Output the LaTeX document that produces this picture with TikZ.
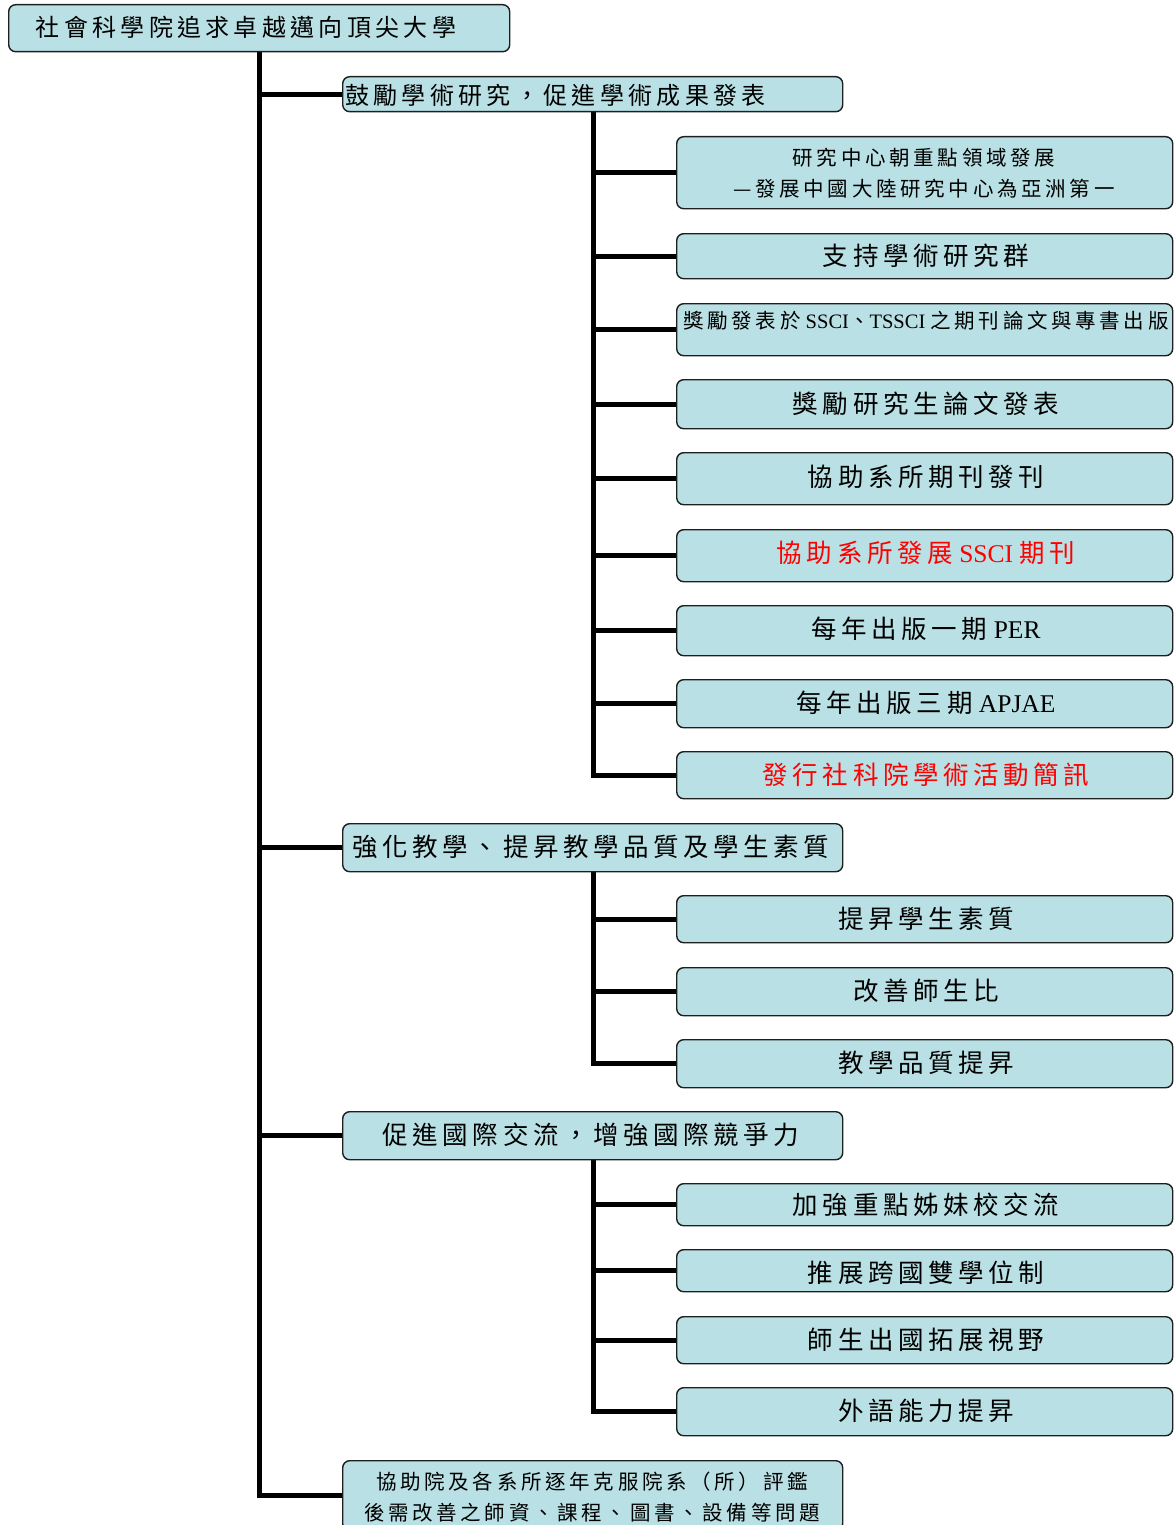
\documentclass[tikz,border=0pt]{standalone}
\usepackage{fontspec}
\setmainfont{Liberation Serif}
\newfontfamily\cjk[LetterSpace=18]{Noto Sans CJK TC}
\usetikzlibrary{backgrounds}
\definecolor{boxfill}{RGB}{185,224,228}
\definecolor{boxline}{RGB}{30,30,30}
\newcommand\fsz[2]{\fontsize{#1}{#2}\selectfont}
\begin{document}
\begin{tikzpicture}[x=1pt,y=-1pt,
  box/.style={draw=boxline, line width=1.4pt, fill=boxfill, rounded corners=7pt,
    inner sep=0pt, anchor=north west},
  cbox/.style={box, minimum width=496pt},
  lbox/.style={box, minimum width=500pt},
  txt/.style={inner sep=0pt, anchor=center, text=black},
  big/.style={font=\fsz{25.5}{30}\cjk},
  mid/.style={font=\fsz{24}{30}\cjk},
  small/.style={font=\fsz{20.5}{31}\cjk, align=center},
  conn/.style={line width=5pt, draw=black}]
\useasboundingbox (0,0) rectangle (1173,1525);
\coordinate (t) at (259,0);
\coordinate (s) at (593,0);

% root
\node[box, minimum width=501pt, minimum height=47pt] (root) at (8,4) {};
\node[txt, mid] (roott) at (246,27) {社會科學院追求卓越邁向頂尖大學};

% level 1
\node[lbox, minimum height=35pt] (a) at (342,76) {};
\node[txt, mid, anchor=west] (at) at (345,95) {鼓勵學術研究，促進學術成果發表};
\node[lbox, minimum height=48pt] (b) at (342,823) {};
\node[txt, big] (bt) at (591,847) {強化教學、提昇教學品質及學生素質};
\node[lbox, minimum height=48pt] (c) at (342,1111) {};
\node[txt, big] (ct) at (591,1135) {促進國際交流，增強國際競爭力};
\node[lbox, minimum height=70pt] (d) at (342,1460) {};
\node[txt, small] (dt) at (592,1497) {協助院及各系所逐年克服院系（所）評鑑\\後需改善之師資、課程、圖書、設備等問題};

% children of a
\node[cbox, minimum height=72pt] (a1) at (676,136) {};
\node[txt, small] (a1t) at (924,173.5) {研究中心朝重點領域發展\\—發展中國大陸研究中心為亞洲第一};
\node[cbox, minimum height=45pt] (a2) at (676,233) {};
\node[txt, big] (a2t) at (926,256) {支持學術研究群};
\node[cbox, minimum height=52pt] (a3) at (676,303) {};
\node[txt, font=\fsz{20.5}{24}] (a3t) at (926,321) {{\cjk 獎勵發表於} SSCI{\cjk 、}TSSCI {\cjk 之期刊論文與專書出版}};
\node[cbox, minimum height=49pt] (a4) at (676,379) {};
\node[txt, big] (a4t) at (926,404) {獎勵研究生論文發表};
\node[cbox, minimum height=52pt] (a5) at (676,452) {};
\node[txt, big] (a5t) at (926,477) {協助系所期刊發刊};
\node[cbox, minimum height=52pt] (a6) at (676,529) {};
\node[txt, font=\fsz{25.5}{30}, text=red] (a6t) at (926,553) {{\cjk 協助系所發展} SSCI {\cjk 期刊}};
\node[cbox, minimum height=50pt] (a7) at (676,605) {};
\node[txt, font=\fsz{25.5}{30}] (a7t) at (926,629) {{\cjk 每年出版一期} PER};
\node[cbox, minimum height=48pt] (a8) at (676,679) {};
\node[txt, font=\fsz{25.5}{30}] (a8t) at (926,703) {{\cjk 每年出版三期} APJAE};
\node[cbox, minimum height=47pt] (a9) at (676,751) {};
\node[txt, big, text=red] (a9t) at (926,775) {發行社科院學術活動簡訊};

% children of b
\node[cbox, minimum height=47pt] (b1) at (676,895) {};
\node[txt, big] (b1t) at (926,919) {提昇學生素質};
\node[cbox, minimum height=48pt] (b2) at (676,967) {};
\node[txt, big] (b2t) at (926,991) {改善師生比};
\node[cbox, minimum height=48pt] (b3) at (676,1039) {};
\node[txt, big] (b3t) at (926,1063) {教學品質提昇};

% children of c
\node[cbox, minimum height=42pt] (c1) at (676,1183) {};
\node[txt, big] (c1t) at (926,1205) {加強重點姊妹校交流};
\node[cbox, minimum height=42pt] (c2) at (676,1249) {};
\node[txt, big] (c2t) at (926,1273) {推展跨國雙學位制};
\node[cbox, minimum height=47pt] (c3) at (676,1316) {};
\node[txt, big] (c3t) at (926,1340) {師生出國拓展視野};
\node[cbox, minimum height=48pt] (c4) at (676,1387) {};
\node[txt, big] (c4t) at (926,1411) {外語能力提昇};

\begin{pgfonlayer}{background}
  \draw[conn] (root.south -| t) |- (d.west);
  \foreach \n in {a,b,c} \draw[conn] (\n.west -| t) -- (\n.west);
  \draw[conn] (a.south -| s) |- (a9.west);
  \foreach \n in {a1,a2,a3,a4,a5,a6,a7,a8} \draw[conn] (\n.west -| s) -- (\n.west);
  \draw[conn] (b.south -| s) |- (b3.west);
  \foreach \n in {b1,b2} \draw[conn] (\n.west -| s) -- (\n.west);
  \draw[conn] (c.south -| s) |- (c4.west);
  \foreach \n in {c1,c2,c3} \draw[conn] (\n.west -| s) -- (\n.west);
\end{pgfonlayer}
\end{tikzpicture}
\end{document}
